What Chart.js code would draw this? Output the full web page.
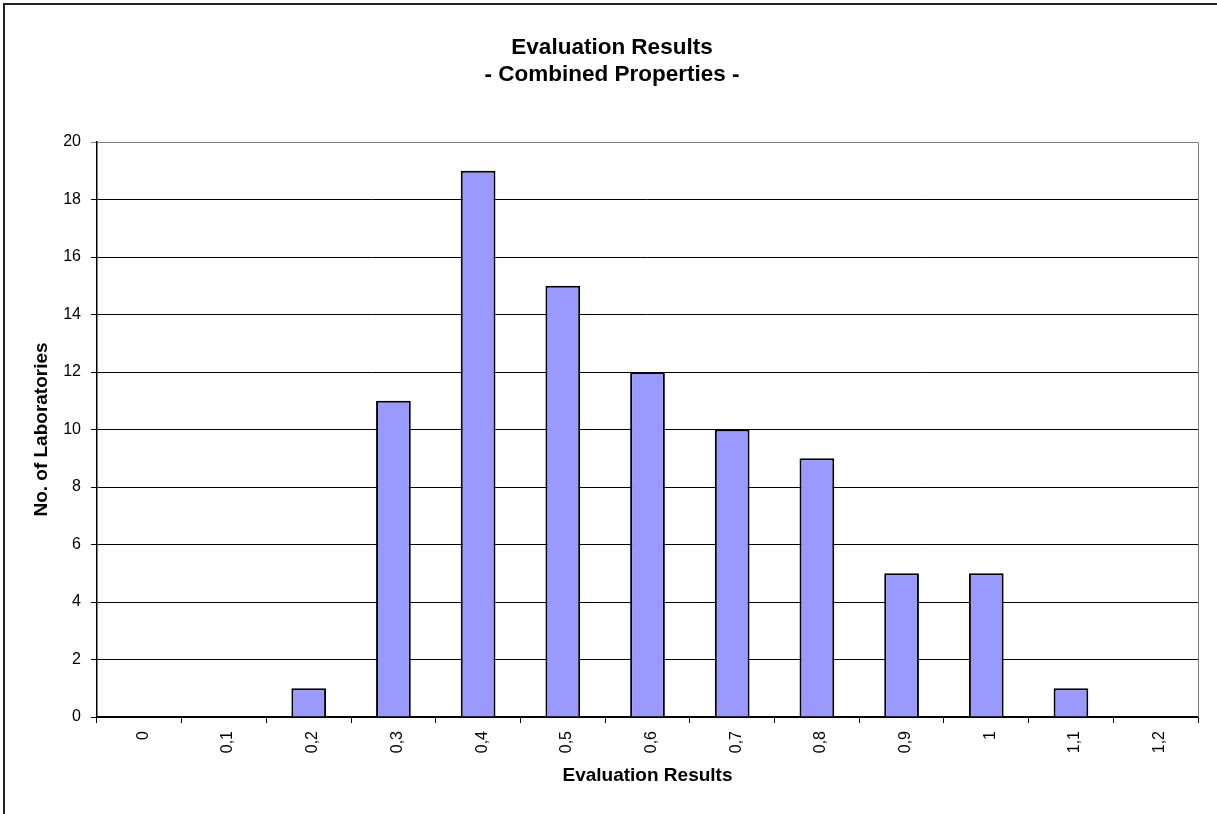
<!DOCTYPE html>
<html>
<head>
<meta charset="utf-8">
<script src="https://cdn.jsdelivr.net/npm/chart.js@4.4.1/dist/chart.umd.min.js"></script>
<style>
  html, body { margin: 0; padding: 0; background: #fff; overflow: hidden; }
  #wrap { position: relative; width: 1217px; height: 814px; }
  #frame { position: absolute; left: 3px; top: 3px; width: 1300px; height: 900px; border-left: 2px solid #222; border-top: 2px solid #222; pointer-events: none; }
  canvas { position: absolute; left: 0; top: 0; }
</style>
</head>
<body>
<div id="wrap">
  <canvas id="c" width="1217" height="814"></canvas>
  <div id="frame"></div>
</div>
<script>
const categories = ['0', '0,1', '0,2', '0,3', '0,4', '0,5', '0,6', '0,7', '0,8', '0,9', '1', '1,1', '1,2'];
const laboratories = [0, 0, 1, 11, 19, 15, 12, 10, 9, 5, 5, 1, 0];
const titleLines = ['Evaluation Results', '- Combined Properties -'];
const xAxisTitle = 'Evaluation Results';
const yAxisTitle = 'No. of Laboratories';
const yMin = 0, yMax = 20, yStep = 2;

const FONT = '"Liberation Sans", Arial, sans-serif';

const plotBorder = {
  id: 'plotBorder',
  afterDatasetsDraw(chart) {
    const {ctx, chartArea: a} = chart;
    ctx.save();
    ctx.strokeStyle = '#808080';
    ctx.lineWidth = 1;
    ctx.beginPath();
    ctx.moveTo(a.left, a.top + 0.5);
    ctx.lineTo(a.right + 0.5, a.top + 0.5);
    ctx.lineTo(a.right + 0.5, a.bottom);
    ctx.stroke();
    ctx.restore();
  }
};

new Chart(document.getElementById('c'), {
  type: 'bar',
  data: {
    labels: categories,
    datasets: [{
      data: laboratories,
      backgroundColor: '#9999FF',
      borderColor: '#000000',
      borderWidth: 2,
      barPercentage: 0.41,
      categoryPercentage: 1.0
    }]
  },
  options: {
    responsive: false,
    animation: false,
    devicePixelRatio: 1,
    layout: { padding: { left: 26, right: 19, top: 0, bottom: 0 } },
    plugins: {
      legend: { display: false },
      tooltip: { enabled: false },
      title: {
        display: true,
        text: titleLines,
        color: '#000',
        font: { family: FONT, size: 22.5, weight: 'bold', lineHeight: 1.2 },
        padding: { top: 34, bottom: 54 }
      }
    },
    scales: {
      x: {
        offset: true,
        grid: { display: true, drawOnChartArea: false, drawTicks: true, tickLength: 6, color: '#000', offset: true },
        border: { display: true, color: '#000', width: 1.5 },
        ticks: { color: '#000', font: { family: FONT, size: 16 }, maxRotation: 90, minRotation: 90, padding: 8, autoSkip: false, labelOffset: 4 },
        title: { display: true, text: xAxisTitle, color: '#000', font: { family: FONT, size: 19, weight: 'bold', lineHeight: 1.2 }, padding: { top: 0, bottom: 27 } },
        afterFit(scale) { scale.height = 97; }
      },
      y: {
        min: yMin,
        max: yMax,
        grid: {
          color: (ctx) => (ctx.tick && ctx.tick.value === yMax) ? '#808080' : '#000',
          lineWidth: 1,
          tickLength: 6,
          drawTicks: true
        },
        border: { display: true, color: '#000', width: 1.5 },
        ticks: { stepSize: yStep, color: '#000', font: { family: FONT, size: 16 }, padding: 10 },
        title: { display: true, text: yAxisTitle, color: '#000', font: { family: FONT, size: 19, weight: 'bold', lineHeight: 1.2 }, padding: { top: 4, bottom: 0 } },
        afterFit(scale) { scale.width = 71; }
      }
    }
  },
  plugins: [plotBorder]
});
</script>
</body>
</html>
